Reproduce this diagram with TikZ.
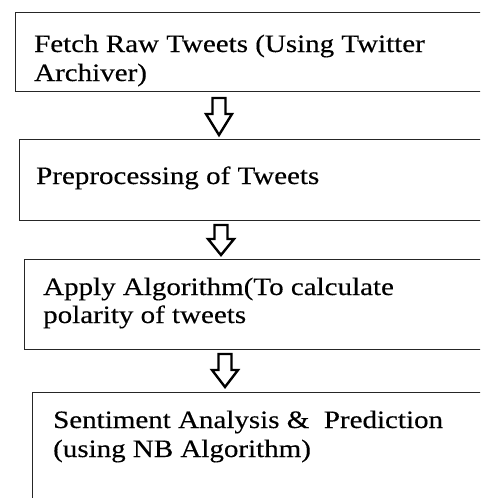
\documentclass[tikz,border=0pt]{standalone}
\usepackage{fontspec}
\setmainfont[FakeStretch=1.16,FakeBold=0.3]{Liberation Serif}
\begin{document}
\begin{tikzpicture}[x=1pt,y=-1pt,
  box/.style={draw=black!85, line width=1.4pt, rectangle, inner sep=0pt, anchor=north west},
  txt/.style={anchor=base west, inner sep=0pt, font=\fontsize{25}{29}\selectfont},
  pics/downarrow/.style args={#1/#2}{code={
    \draw[line width=2.4pt, line join=miter, fill=white] (-6.5,0) -- (6.5,0) -- (6.5,#2) -- (13,#2) -- (0,#1) -- (-13,#2) -- (-6.5,#2) -- cycle;}}
]
\clip (0,0) rectangle (480,498);
\fill[white] (0,0) rectangle (480,498);
% boxes
\node[box, minimum width=500pt, minimum height=79pt] (b1) at (15,12) {};
\node[box, minimum width=500pt, minimum height=81pt] (b2) at (19,139) {};
\node[box, minimum width=500pt, minimum height=90pt] (b3) at (24,259) {};
\node[box, minimum width=500pt, minimum height=140pt] (b4) at (32,392) {};
% texts
\node[txt] (t1a) at (34,52) {Fetch Raw Tweets (Using Twitter};
\node[txt] (t1b) at (34,81) {Archiver)};
\node[txt] (t2) at (36,184) {Preprocessing of Tweets};
\node[txt] (t3a) at (43,295) {Apply Algorithm(To calculate};
\node[txt] (t3b) at (43,323) {polarity of tweets};
\node[txt] (t4a) at (53,428) {Sentiment Analysis \& \ Prediction};
\node[txt] (t4b) at (53,457) {(using NB Algorithm)};
% arrows
\coordinate (a1) at (219,98);
\coordinate (a2) at (221,225);
\coordinate (a3) at (225,354);
\pic at (a1) {downarrow={37/16}};
\pic at (a2) {downarrow={30/14}};
\pic at (a3) {downarrow={33/16}};
\end{tikzpicture}
\end{document}
